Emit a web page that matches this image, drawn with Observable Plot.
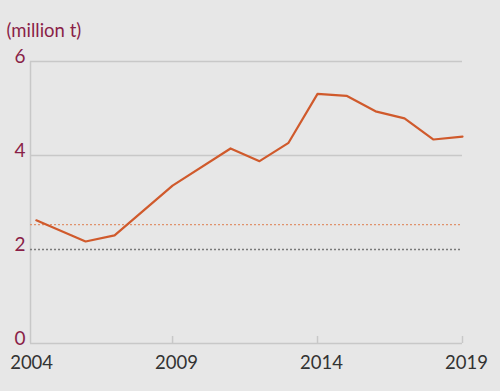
<!DOCTYPE html>
<html>
<head>
<meta charset="utf-8">
<script src="https://cdn.jsdelivr.net/npm/d3@7"></script>
<script src="https://cdn.jsdelivr.net/npm/@observablehq/plot@0.6"></script>
<style>
  html, body { margin: 0; padding: 0; background: #e7e7e7; }
</style>
</head>
<body>
<div id="chart"></div>
<script>
const years = [2004.3, 2006, 2007, 2009, 2011, 2012, 2013, 2014, 2015, 2016, 2017, 2018, 2019];
const values = [2.62, 2.17, 2.30, 3.36, 4.15, 3.88, 4.27, 5.31, 5.27, 4.94, 4.79, 4.34, 4.40];
const yTicks = [0, 2, 4, 6];
const xTicks = [2004, 2009, 2014, 2019];
const xMarks = [2009, 2014, 2019];
const solidGrid = [4, 6];
const grayRef = [2];
const orangeRef = [2.53];
const unitLabel = "(million t)";

const data = years.map((y, i) => ({year: y, value: values[i]}));

const maroon = "#8a1f47";
const gridColor = "#c8c8c8";

const chart = Plot.plot({
  width: 500,
  height: 391,
  marginLeft: 30,
  marginRight: 38,
  marginTop: 61,
  marginBottom: 48,
  style: {background: "#e7e7e7", fontFamily: "Lato, 'Open Sans', sans-serif", fontSize: "18px", overflow: "visible"},
  x: {type: "linear", domain: [2004.1, 2019]},
  y: {domain: [0, 6]},
  marks: [
    Plot.ruleY(solidGrid, {stroke: gridColor, strokeWidth: 1.5}),
    Plot.ruleY([0], {stroke: gridColor, strokeWidth: 1.5}),
    Plot.ruleX([2004.1], {y1: 0, y2: 6, stroke: gridColor, strokeWidth: 1.5}),
    Plot.ruleX(xMarks, {y1: 0, y2: 0.15, stroke: gridColor, strokeWidth: 1.5}),
    Plot.ruleY(grayRef, {stroke: "#7a7a7a", strokeWidth: 1.3, strokeDasharray: "2,2"}),
    Plot.ruleY(orangeRef, {stroke: "#e0926c", strokeWidth: 1.3, strokeDasharray: "2,2"}),
    Plot.line(data, {x: "year", y: "value", stroke: "#d05a2c", strokeWidth: 2.2}),
    Plot.axisY({ticks: yTicks, tickSize: 0, tickPadding: 5, fill: maroon, dy: -4.5, fontSize: 19, tickFormat: d => String(d), label: null}),
    Plot.axisX({ticks: xTicks, tickSize: 0, tickPadding: 12, fill: "#333", dx: 4, fontSize: 18.5, tickFormat: d => String(d), label: null}),
    Plot.text([unitLabel], {frameAnchor: "top-left", lineAnchor: "middle", text: d => d, textAnchor: "start", dx: -24, dy: -30, fill: maroon, fontSize: 18.5})
  ]
});
document.getElementById("chart").appendChild(chart);
</script>
</body>
</html>
